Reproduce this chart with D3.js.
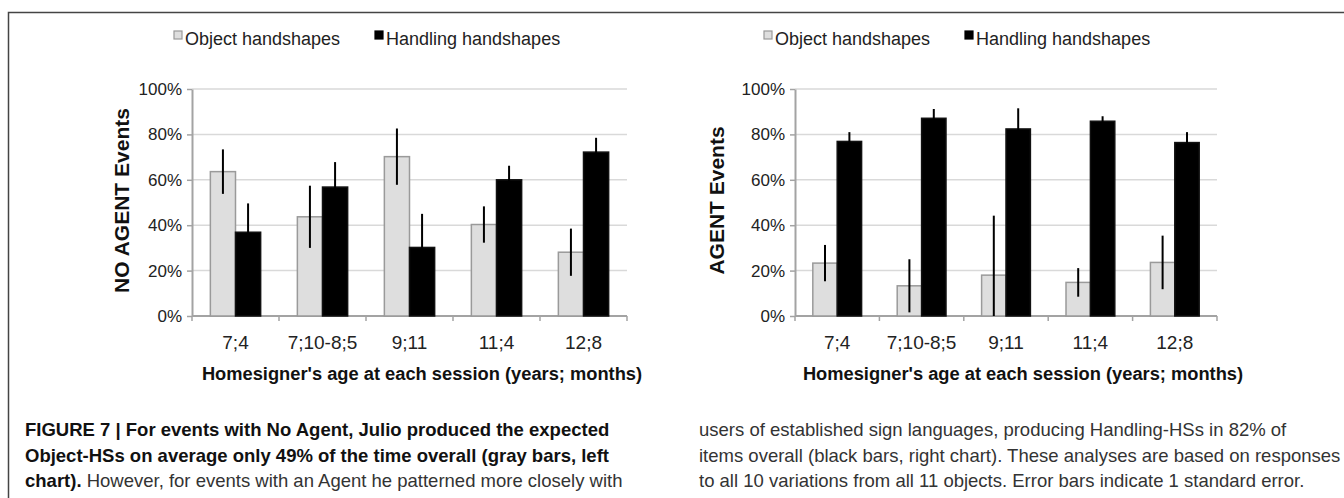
<!DOCTYPE html>
<html lang="en">
<head>
  <meta charset="UTF-8">
  <title>Figure 7</title>
  <script src="https://cdn.jsdelivr.net/npm/d3@7"></script>
  <style>
    body { margin: 0; background: #fff; }
    svg { display: block; font-family: "Liberation Sans", Arial, Helvetica, sans-serif; }
  </style>
</head>
<body>
<svg></svg>
<script>
  const categories = ["7;4", "7;10-8;5", "9;11", "11;4", "12;8"]
  const series = ["Object handshapes", "Handling handshapes"]
  const yTicks = [0, 20, 40, 60, 80, 100]

  // percent values
  const noAgentObject = [63.6, 43.7, 70.2, 40.3, 28.1]
  const noAgentObjectErr = [9.8, 13.7, 12.4, 8.0, 10.4]
  const noAgentHandling = [36.9, 56.8, 30.2, 60.0, 72.2]
  const noAgentHandlingErr = [12.7, 11.0, 14.8, 6.2, 6.3]

  const agentObject = [23.3, 13.3, 18.0, 14.8, 23.6]
  const agentObjectErr = [8.0, 11.7, 26.2, 6.3, 11.8]
  const agentHandling = [76.9, 87.1, 82.4, 85.8, 76.4]
  const agentHandlingErr = [4.1, 4.1, 9.1, 2.2, 4.6]

  const xTitle = "Homesigner's age at each session (years; months)"

  const width = 1344, height = 498
  const plotTop = 89, plotBottom = 316

  const svg = d3.select('svg')
      .attr('width', width)
      .attr('height', height)
      .attr('viewBox', [0, 0, width, height])

  // figure frame (top + left edge)
  svg.append('path')
      .attr('d', `M${width},12.5H8.5V${height}`)
      .attr('fill', 'none')
      .attr('stroke', '#444')
      .attr('stroke-width', 1.5)

  const panels = [
    {left: 192, right: 627, title: "NO AGENT Events", titleX: 129, xTitleX: 422,
      obj: noAgentObject, objErr: noAgentObjectErr, hand: noAgentHandling, handErr: noAgentHandlingErr,
      legendX: [174, 375]},
    {left: 795, right: 1217, title: "AGENT Events", titleX: 724, xTitleX: 1023,
      obj: agentObject, objErr: agentObjectErr, hand: agentHandling, handErr: agentHandlingErr,
      legendX: [764, 965]}
  ]

  const fills = ['#dedede', '#000']
  const strokes = ['#9a9a9a', '#111']

  panels.forEach(p => {
    const g = svg.append('g')

    const x = d3.scaleBand()
        .domain(categories)
        .range([p.left, p.right])

    const xs = d3.scaleBand()
        .domain(series)
        .range([0, x.bandwidth()])
        .paddingOuter(0.73)

    const y = d3.scaleLinear()
        .domain([0, 100])
        .range([plotBottom, plotTop])

    // gridlines
    g.append('g')
        .selectAll('line')
        .data(yTicks.filter(d => d > 0))
        .join('line')
        .attr('x1', p.left)
        .attr('x2', p.right)
        .attr('y1', d => y(d))
        .attr('y2', d => y(d))
        .attr('stroke', '#d9d9d9')
        .attr('stroke-width', 1.5)

    // y axis
    g.append('g')
        .attr('transform', `translate(${p.left},0)`)
        .call(d3.axisLeft(y).tickValues(yTicks).tickFormat(d => d + '%').tickSize(5).tickSizeOuter(0).tickPadding(5))
        .call(g => g.select('.domain').attr('stroke', '#a3a3a3').attr('stroke-width', 2))
        .call(g => g.selectAll('.tick line').attr('stroke', '#a3a3a3').attr('stroke-width', 1.5))
        .call(g => g.selectAll('.tick text')
            .attr('font-size', 17)
            .attr('fill', '#222'))
        .attr('font-family', null)
        .attr('font-size', null)

    // x axis line and ticks at band edges
    const edges = categories.map(c => x(c)).concat([p.right])
    g.append('line')
        .attr('x1', p.left)
        .attr('x2', p.right)
        .attr('y1', plotBottom)
        .attr('y2', plotBottom)
        .attr('stroke', '#a3a3a3')
        .attr('stroke-width', 2)
    g.append('g')
        .selectAll('line')
        .data(edges)
        .join('line')
        .attr('x1', d => d)
        .attr('x2', d => d)
        .attr('y1', plotBottom)
        .attr('y2', plotBottom + 5)
        .attr('stroke', '#a3a3a3')
        .attr('stroke-width', 1.5)

    g.append('g')
        .selectAll('text')
        .data(categories)
        .join('text')
        .attr('x', d => x(d) + x.bandwidth() / 2)
        .attr('y', 349)
        .attr('text-anchor', 'middle')
        .attr('font-size', 19)
        .attr('fill', '#222')
        .text(d => d)

    // bars
    const rows = categories.map((c, i) => [
      {cat: c, s: series[0], k: 0, v: p.obj[i], e: p.objErr[i]},
      {cat: c, s: series[1], k: 1, v: p.hand[i], e: p.handErr[i]}
    ]).flat()

    g.append('g')
        .selectAll('rect')
        .data(rows)
        .join('rect')
        .attr('x', d => x(d.cat) + xs(d.s))
        .attr('y', d => y(d.v))
        .attr('width', xs.bandwidth())
        .attr('height', d => y(0) - y(d.v))
        .attr('fill', d => fills[d.k])
        .attr('stroke', d => strokes[d.k])
        .attr('stroke-width', 1.5)

    // error bars
    g.append('g')
        .selectAll('line')
        .data(rows)
        .join('line')
        .attr('x1', d => x(d.cat) + xs(d.s) + xs.bandwidth() / 2)
        .attr('x2', d => x(d.cat) + xs(d.s) + xs.bandwidth() / 2)
        .attr('y1', d => y(Math.max(0, d.v - d.e)))
        .attr('y2', d => y(Math.min(100, d.v + d.e)))
        .attr('stroke', '#000')
        .attr('stroke-width', 2)

    // y title
    g.append('text')
        .attr('transform', `translate(${p.titleX},${(plotTop + plotBottom) / 2 - 2}) rotate(-90)`)
        .attr('text-anchor', 'middle')
        .attr('font-size', 21)
        .attr('font-weight', 'bold')
        .attr('fill', '#111')
        .text(p.title)

    // x title
    g.append('text')
        .attr('x', p.xTitleX)
        .attr('y', 380)
        .attr('text-anchor', 'middle')
        .attr('font-size', 18.3)
        .attr('font-weight', 'bold')
        .attr('fill', '#111')
        .text(xTitle)

    // legend
    const lg = g.append('g')
        .selectAll('g')
        .data(series)
        .join('g')
        .attr('transform', (d, i) => `translate(${p.legendX[i]},31)`)
    lg.append('rect')
        .attr('width', 8)
        .attr('height', 8)
        .attr('fill', (d, i) => fills[i])
        .attr('stroke', (d, i) => i ? '#000' : '#999')
        .attr('stroke-width', 1.2)
    lg.append('text')
        .attr('x', 11)
        .attr('y', 13.5)
        .attr('font-size', 18)
        .attr('fill', '#222')
        .text(d => d)
  })

  // caption
  const captionLeft = [
    [{t: "FIGURE 7 | For events with No Agent, Julio produced the expected", b: true}],
    [{t: "Object-HSs on average only 49% of the time overall (gray bars, left", b: true}],
    [{t: "chart).", b: true}, {t: " However, for events with an Agent he patterned more closely with", b: false}]
  ]
  const captionRight = [
    "users of established sign languages, producing Handling-HSs in 82% of",
    "items overall (black bars, right chart). These analyses are based on responses",
    "to all 10 variations from all 11 objects. Error bars indicate 1 standard error."
  ]
  const lineY = [436, 461.5, 487]

  captionLeft.forEach((parts, i) => {
    const t = svg.append('text')
        .attr('x', 25)
        .attr('y', lineY[i])
        .attr('font-size', 18.5)
    parts.forEach(pt => t.append('tspan')
        .attr('font-weight', pt.b ? 'bold' : 'normal')
        .attr('fill', pt.b ? '#111' : '#333')
        .text(pt.t))
  })

  svg.append('g')
      .selectAll('text')
      .data(captionRight)
      .join('text')
      .attr('x', 699)
      .attr('y', (d, i) => lineY[i])
      .attr('font-size', 18.5)
      .attr('fill', '#333')
      .text(d => d)
</script>
</body>
</html>
